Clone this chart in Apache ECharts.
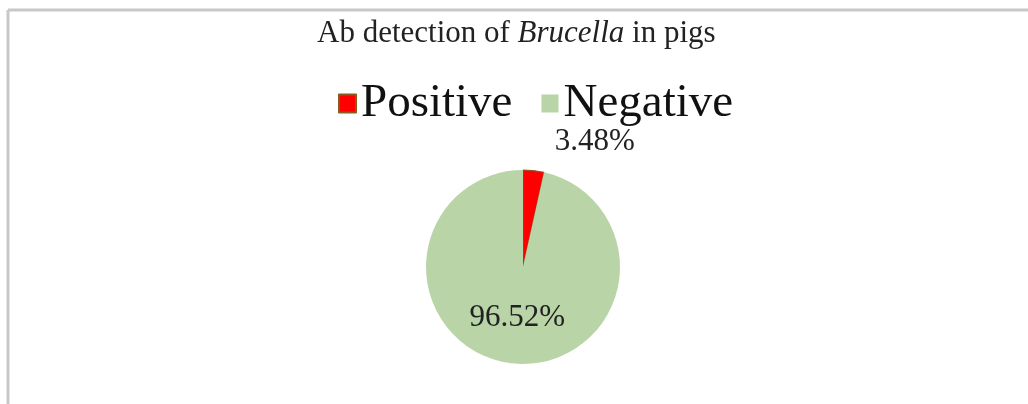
<!DOCTYPE html>
<html>
<head>
<meta charset="utf-8">
<script src="https://cdn.jsdelivr.net/npm/echarts@6/dist/echarts.min.js"></script>
<style>
  html, body { margin: 0; padding: 0; background: #fff; }
  #main { width: 1028px; height: 404px; }
</style>
</head>
<body>
<div id="main"></div>
<script>
const categories = ['Positive', 'Negative']
const values = [3.48, 96.52]
const colors = ['#ff0000', '#b9d4a7']

const chart = echarts.init(document.getElementById('main'))

const serif = 'Liberation Serif, Times New Roman, serif'

let option = {
  backgroundColor: '#fff',
  animation: false,
  title: {
    text: 'Ab detection of {i|Brucella} in pigs',
    left: 312,
    top: 13,
    textStyle: {
      fontFamily: serif,
      fontWeight: 'normal',
      fontSize: 31,
      color: '#222',
      rich: {
        i: { fontFamily: serif, fontStyle: 'italic', fontSize: 31, color: '#222' }
      }
    }
  },
  legend: {
    data: categories,
    top: 75,
    left: 333,
    icon: 'rect',
    itemWidth: 17,
    itemHeight: 18,
    itemGap: 29,
    textStyle: { fontFamily: serif, fontSize: 47, color: '#111' }
  },
  graphic: [
    { type: 'line', shape: { x1: 8, y1: 10, x2: 1028, y2: 10 }, style: { stroke: '#c8c8c8', lineWidth: 3 } },
    { type: 'line', shape: { x1: 8, y1: 10, x2: 8, y2: 404 }, style: { stroke: '#c8c8c8', lineWidth: 3 } }
  ],
  series: [
    {
      type: 'pie',
      center: [523, 267],
      radius: 97,
      startAngle: 90,
      clockwise: true,
      data: categories.map((name, i) => ({
        name: name,
        value: values[i],
        itemStyle: i === 0
          ? { color: colors[i], borderColor: '#8a5a20', borderWidth: 1 }
          : { color: colors[i] },
        label: i === 0
          ? { position: 'outside' }
          : { position: 'inside' },
        labelLine: { show: false, length: 29, length2: 13 }
      })),
      label: {
        formatter: (p) => p.value.toFixed(2) + '%',
        fontFamily: serif,
        fontSize: 31,
        color: '#222'
      },
      emphasis: { disabled: true }
    }
  ]
}
chart.setOption(option)
</script>
</body>
</html>
